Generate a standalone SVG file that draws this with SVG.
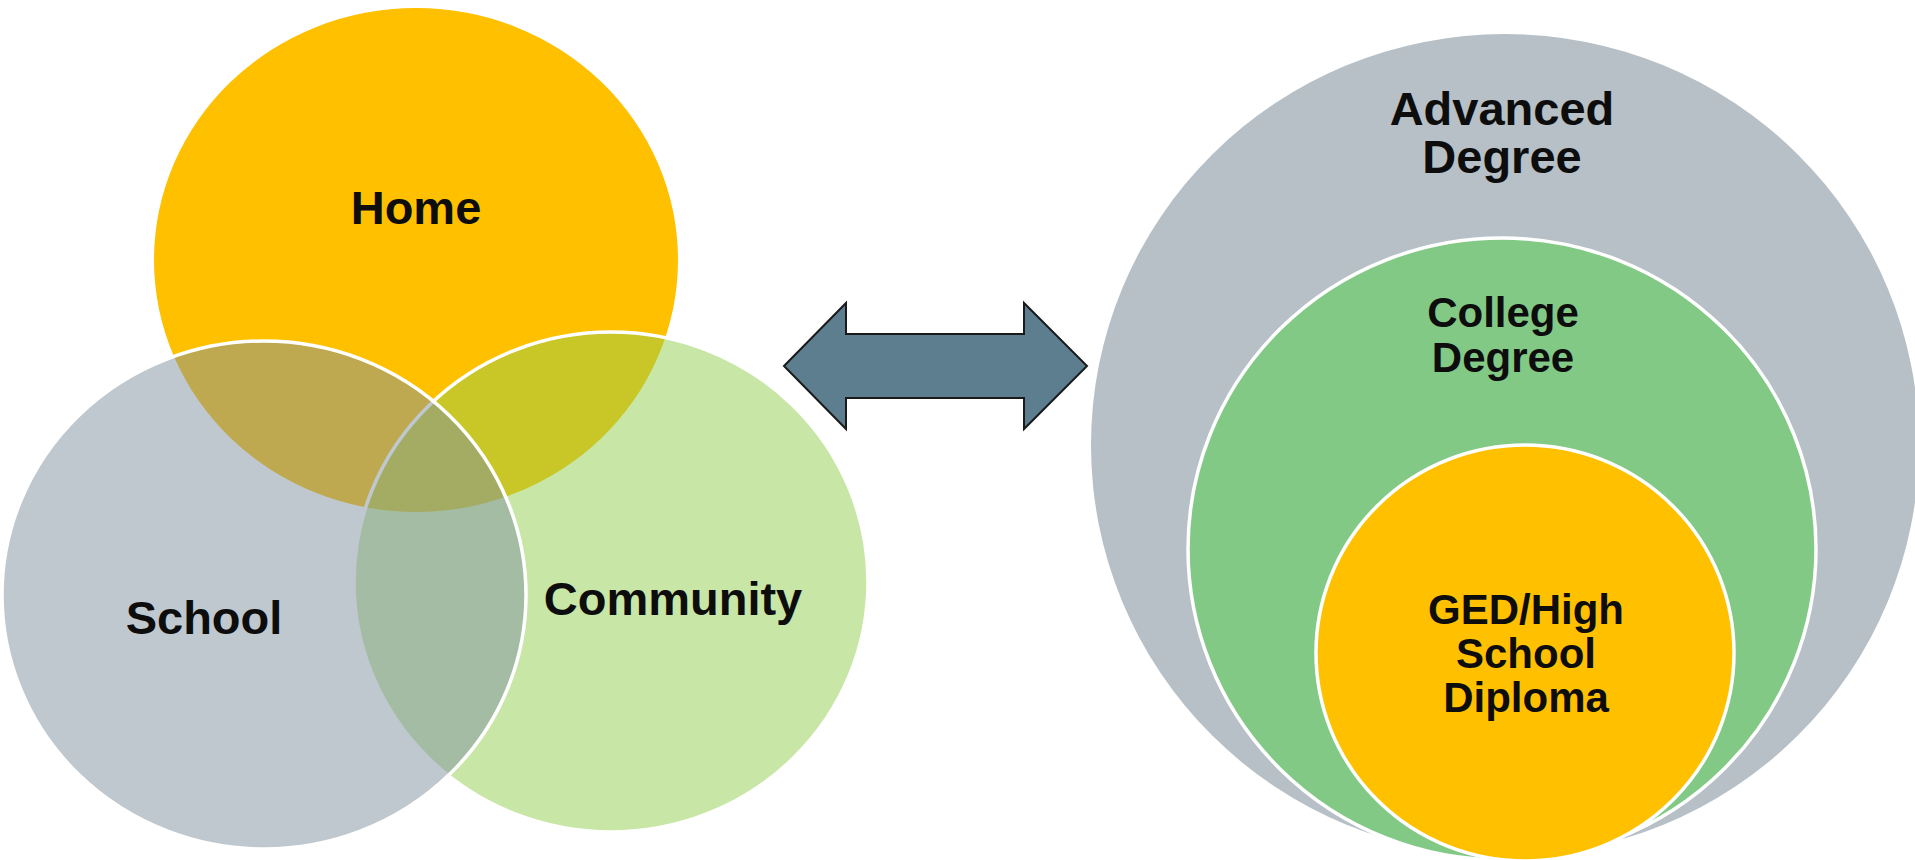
<svg xmlns="http://www.w3.org/2000/svg" width="1915" height="860" viewBox="0 0 1915 860">
<style>
.lbl{font-family:"Liberation Sans",Arial,sans-serif;font-weight:bold;fill:#0d0d0d;text-anchor:middle}
.big{font-size:47px}
.mid{font-size:42px}
.wst{stroke:#ffffff;stroke-width:3.5}
</style>
<rect width="1915" height="860" fill="#ffffff"/>
<g id="venn">
<g id="home">
<ellipse cx="416" cy="260" rx="262" ry="252" fill="#FFC000"/>
</g>
<g id="community">
<ellipse cx="611" cy="582" rx="257" ry="250" fill="#91CD4D" fill-opacity="0.5" class="wst"/>
</g>
<g id="school">
<ellipse cx="264" cy="595" rx="262" ry="254" fill="#7F919F" fill-opacity="0.5" class="wst"/>
</g>
<text class="lbl big" x="416" y="224">Home</text>
<text class="lbl big" x="204" y="634">School</text>
<text class="lbl big" x="673" y="615">Community</text>
</g>
<g id="connectors">
<polygon points="784,366 846,303 846,334 1024,334 1024,303 1087,366 1024,429 1024,398 846,398 846,429" fill="#5D7E8F" stroke="#1a1a1a" stroke-width="2" stroke-linejoin="miter"/>
</g>
<g id="advanced">
<ellipse cx="1505" cy="445" rx="414" ry="411" fill="#B6C0C6"/>
<text class="lbl big" x="1502" y="125">Advanced</text>
<text class="lbl big" x="1502" y="173">Degree</text>
</g>
<g id="college">
<ellipse cx="1502" cy="549" rx="314" ry="311" fill="#83C986" class="wst"/>
<text class="lbl mid" x="1503" y="327">College</text>
<text class="lbl mid" x="1503" y="372">Degree</text>
</g>
<g id="ged">
<ellipse cx="1525" cy="653" rx="209" ry="208" fill="#FFC000" class="wst"/>
<text class="lbl mid" x="1526" y="624">GED/High</text>
<text class="lbl mid" x="1526" y="668">School</text>
<text class="lbl mid" x="1526" y="712">Diploma</text>
</g>
</svg>
